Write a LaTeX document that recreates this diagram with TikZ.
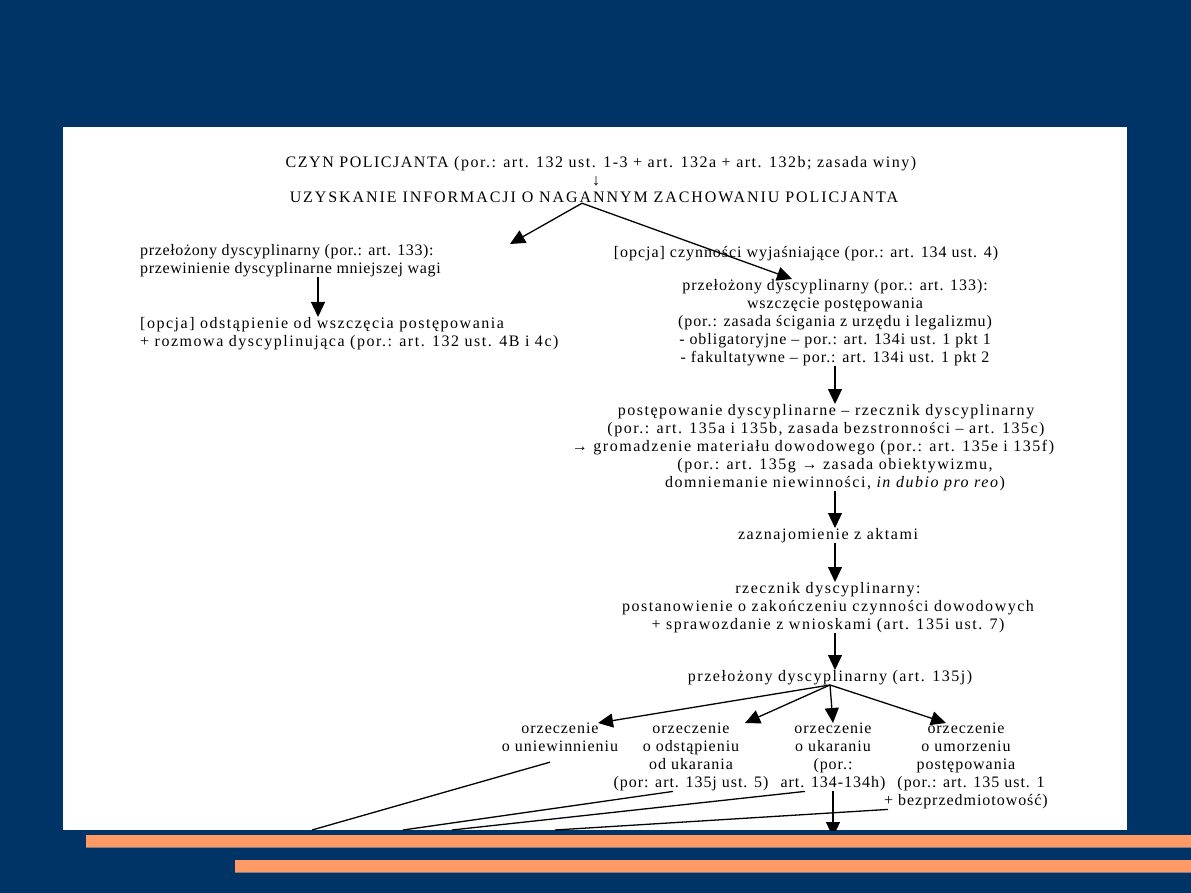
\documentclass[tikz,border=0pt]{standalone}
\usepackage{fontspec}
\setmainfont{Liberation Serif}
\newfontfamily\slidefont{Liberation Serif}[LetterSpace=9.5]
\newfontfamily\slidefonttight{Liberation Serif}[LetterSpace=6]
\newfontfamily\slidefontnarrow{Liberation Serif}[LetterSpace=4]
\newfontfamily\slidefontwide{Liberation Serif}[LetterSpace=12]
\usetikzlibrary{arrows.meta,positioning}
\definecolor{slideblue}{RGB}{0,51,102}
\definecolor{slideorange}{RGB}{255,153,102}

\begin{document}
\begin{tikzpicture}[x=1pt,y=-1pt,
  box/.style={font=\slidefont\fontsize{16}{18}\selectfont, align=center, inner sep=0pt, anchor=north},
  tight/.style={font=\slidefonttight\fontsize{16}{18}\selectfont},
  arr/.style={-{Triangle[length=15pt,width=14pt]}, line width=1.3pt}]
\useasboundingbox (0,0) rectangle (1191,893);
% slide background
\fill[slideblue] (0,0) rectangle (1191,893);
\fill[white] (63,127) rectangle (1127,830);
\fill[slideorange] (86,835) rectangle (1191,847);
\fill[slideorange] (235,860) rectangle (1191,872);
\draw[gray, line width=0.8pt] (86,847.4) -- (1191,847.4);
\draw[gray, line width=0.8pt] (235,872.4) -- (1191,872.4);

% top
\node[box] (czyn) at (601,156) {CZYN POLICJANTA (por.: art. 132 ust. 1-3 + art. 132a + art. 132b; zasada winy)\\↓\rule{10pt}{0pt}};
\node[box, font=\slidefontwide\fontsize{16}{18}\selectfont] (info) at (594,192) {UZYSKANIE INFORMACJI O NAGANNYM ZACHOWANIU POLICJANTA};

% left branch
\node[box, anchor=north west, align=left, font=\slidefontnarrow\fontsize{16}{18}\selectfont] (left1) at (140,244) {przełożony dyscyplinarny (por.: art. 133):\\przewinienie dyscyplinarne mniejszej wagi};
\node[box, anchor=north west, align=left] (left2) at (140,317) {[opcja] odstąpienie od wszczęcia postępowania\\+ rozmowa dyscyplinująca (por.: art. 132 ust. 4B i 4c)};

% right branch
\node[box, tight] (opt) at (806,246) {[opcja] czynności wyjaśniające (por.: art. 134 ust. 4)};
\node[box, tight] (przel2) at (835,279) {przełożony dyscyplinarny (por.: art. 133):\\wszczęcie postępowania\\(por.: zasada ścigania z urzędu i legalizmu)\\- obligatoryjne – por.: art. 134i ust. 1 pkt 1\\- fakultatywne – por.: art. 134i ust. 1 pkt 2};
\node[box] (post) at (826,404) {postępowanie dyscyplinarne – rzecznik dyscyplinarny\\(por.: art. 135a i 135b, zasada bezstronności – art. 135c)\\→ gromadzenie materiału dowodowego (por.: art. 135e i 135f)\rule{26pt}{0pt}\\\rule{18pt}{0pt}(por.: art. 135g → zasada obiektywizmu,\\\rule{18pt}{0pt}domniemanie niewinności, \textit{in dubio pro reo})};
\node[box] (zazn) at (828,528) {zaznajomienie z aktami};
\node[box] (rzecz) at (828,582) {rzecznik dyscyplinarny:\\postanowienie o zakończeniu czynności dowodowych\\+ sprawozdanie z wnioskami (art. 135i ust. 7)};
\node[box] (przel3) at (830,670) {przełożony dyscyplinarny (art. 135j)};

% decisions
\node[box, tight] (unie) at (560,723) {orzeczenie\\o uniewinnieniu};
\node[box, tight] (odst) at (691,723) {orzeczenie\\o odstąpieniu\\od ukarania\\(por: art. 135j ust. 5)};
\node[box, tight] (ukar) at (833,723) {orzeczenie\\o ukaraniu\\(por.:\\art. 134-134h)};
\node[box, tight] (umorz) at (966,723) {orzeczenie\\o umorzeniu\\postępowania\\\rule{10pt}{0pt}(por.: art. 135 ust. 1\\+ bezprzedmiotowość)};

% arrows
\draw[arr] ([xshift=-12pt]info.south) -- ([xshift=370pt]left1.north west);
\draw[arr] ([xshift=-12pt]info.south) -- ([xshift=-43pt]przel2.north);
\draw[arr] ([xshift=178pt]left1.south west) -- ([xshift=178pt]left2.north west);
\draw[arr] (przel2.south) -- ([xshift=9pt]post.north);
\draw[arr] ([xshift=9pt]post.south) -- ([xshift=7pt]zazn.north);
\draw[arr] ([xshift=7pt]zazn.south) -- ([xshift=7pt]rzecz.north);
\draw[arr] ([xshift=7pt]rzecz.south) -- ([xshift=5pt]przel3.north);
\draw[arr] (przel3.south) -- ([xshift=38pt]unie.north);
\draw[arr] (przel3.south) -- ([xshift=54pt]odst.north);
\draw[arr] (przel3.south) -- (ukar.north);
\draw[arr] (przel3.south) -- ([xshift=-20pt]umorz.north);

% lines leaving the slide
\coordinate (e1) at (312,830);
\coordinate (e2) at (403,830);
\coordinate (e3) at (452,830);
\coordinate (e4) at (555,830);
\coordinate (ukarout) at (833,837);
\begin{scope}
\clip (63,127) rectangle (1127,830);
\draw[line width=1.3pt] ([xshift=-10pt,yshift=-10pt]unie.south) -- (e1);
\draw[line width=1.3pt] ([xshift=-18pt]odst.south) -- (e2);
\draw[line width=1.3pt] ([xshift=-28pt]ukar.south) -- (e3);
\draw[line width=1.3pt] ([xshift=4pt]umorz.south west) -- (e4);
\draw[arr] (ukar.south) -- (ukarout);
\end{scope}
\end{tikzpicture}
\end{document}
